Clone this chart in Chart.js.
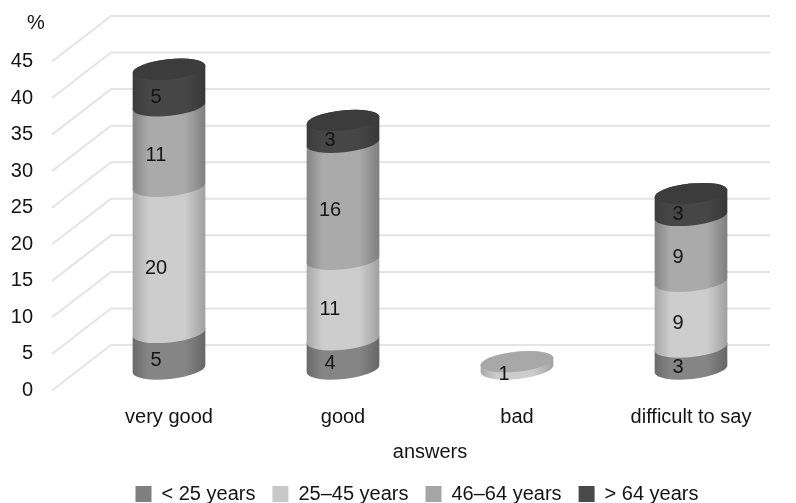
<!DOCTYPE html>
<html><head><meta charset="utf-8">
<style>html,body{margin:0;padding:0;background:#fff;overflow:hidden}canvas{display:block}</style>
<script src="https://cdn.jsdelivr.net/npm/chart.js@4"></script>
</head><body><canvas id="c" width="796" height="503" style="width:796px;height:503px"></canvas>
<script>
const categories = ["very good","good","bad","difficult to say"];
const seriesNames = ["< 25 years","25–45 years","46–64 years","> 64 years"];
const under25 = [5,4,null,3];
const from25to45 = [20,11,1,9];
const from46to64 = [11,16,null,9];
const over64 = [5,3,null,3];
const swatch = ["#7f7f7f","#c8c8c8","#a5a5a5","#4a4a4a"];
const sideEdgeL = ["#6a6a6a","#a8a8a8","#858585","#3c3c3c"];
const sideMid = ["#858585","#cdcdcd","#aaaaaa","#464646"];
const sideEdgeR = ["#666666","#a0a0a0","#7e7e7e","#383838"];
const capColor = ["#6f6f6f","#a8a8a8","#8c8c8c","#3c3c3c"];
const FONT = "Liberation Sans, Arial, sans-serif";
const INK = "#141414";
const depthY = 21.5, backDX = 59, backDY = 45.5, frontX = 52, gridEnd = 770, legendShift = 28;
const tilt = -6*Math.PI/180, capB = 10;

const cyl = {
  id:"cyl",
  afterLayout(chart){
    chart.legend.left+=legendShift; chart.legend.right+=legendShift;
  },
  beforeDatasetsDraw(chart){
    const ctx=chart.ctx, y=chart.scales.y;
    ctx.save();
    ctx.strokeStyle="#e4e4e4"; ctx.lineWidth=2;
    y.ticks.forEach(t=>{
      const p=y.getPixelForValue(t.value);
      ctx.beginPath(); ctx.moveTo(frontX,p); ctx.lineTo(frontX+backDX,p-backDY); ctx.lineTo(gridEnd,p-backDY); ctx.stroke();
    });
    categories.forEach((_,j)=>{
      let top=null;
      chart.data.datasets.forEach((ds,i)=>{
        const el=chart.getDatasetMeta(i).data[j];
        if(ds.data[j]==null) return;
        const a=el.width/2, cx=el.x, y0=el.base-depthY, y1=el.y-depthY;
        const g=ctx.createLinearGradient(cx-a,0,cx+a,0);
        g.addColorStop(0,sideEdgeL[i]); g.addColorStop(.22,sideMid[i]);
        g.addColorStop(.72,sideMid[i]); g.addColorStop(1,sideEdgeR[i]);
        ctx.fillStyle=g;
        ctx.beginPath();
        ctx.ellipse(cx,y0,a,capB,tilt,0,Math.PI,false);
        ctx.ellipse(cx,y1,a,capB,tilt,Math.PI,2*Math.PI,false);
        ctx.closePath(); ctx.fill();
        top={cx,a,y1,i};
      });
      if(top){
        ctx.fillStyle=capColor[top.i];
        ctx.beginPath(); ctx.ellipse(top.cx,top.y1,top.a,capB,tilt,0,2*Math.PI); ctx.fill();
      }
    });
    ctx.fillStyle=INK; ctx.font="20px "+FONT; ctx.textAlign="center"; ctx.textBaseline="middle";
    chart.data.datasets.forEach((ds,i)=>{
      ds.data.forEach((v,j)=>{
        if(v==null) return;
        const el=chart.getDatasetMeta(i).data[j];
        ctx.fillText(String(v),el.x-13,(el.y+el.base)/2-12);
      });
    });
    ctx.fillText("%",36,23);
    ctx.restore();
    return false;
  }
};

new Chart(document.getElementById("c"),{
  type:"bar",
  data:{labels:categories,datasets:[under25,from25to45,from46to64,over64].map((d,i)=>({
    label:seriesNames[i],data:d,backgroundColor:swatch[i],categoryPercentage:.42,barPercentage:1,stack:"s"}))},
  options:{
    responsive:false,animation:false,
    layout:{padding:{left:0,right:18,top:61.5,bottom:-11}},
    plugins:{tooltip:{enabled:false},
      legend:{position:"bottom",labels:{boxWidth:16,boxHeight:16,padding:17,color:INK,font:{family:FONT,size:20}}}},
    scales:{
      x:{stacked:true,grid:{display:false},border:{display:false},
        ticks:{color:INK,font:{family:FONT,size:20},padding:7},
        title:{display:true,text:"answers",color:INK,font:{family:FONT,size:20},padding:{top:4,bottom:2.5}}},
      y:{stacked:true,min:0,max:45,grid:{display:false},border:{display:false},
        afterFit(s){s.width=82;},
        ticks:{stepSize:5,color:INK,font:{family:FONT,size:20},padding:41}}
    }
  },
  plugins:[cyl]
});
</script></body></html>
